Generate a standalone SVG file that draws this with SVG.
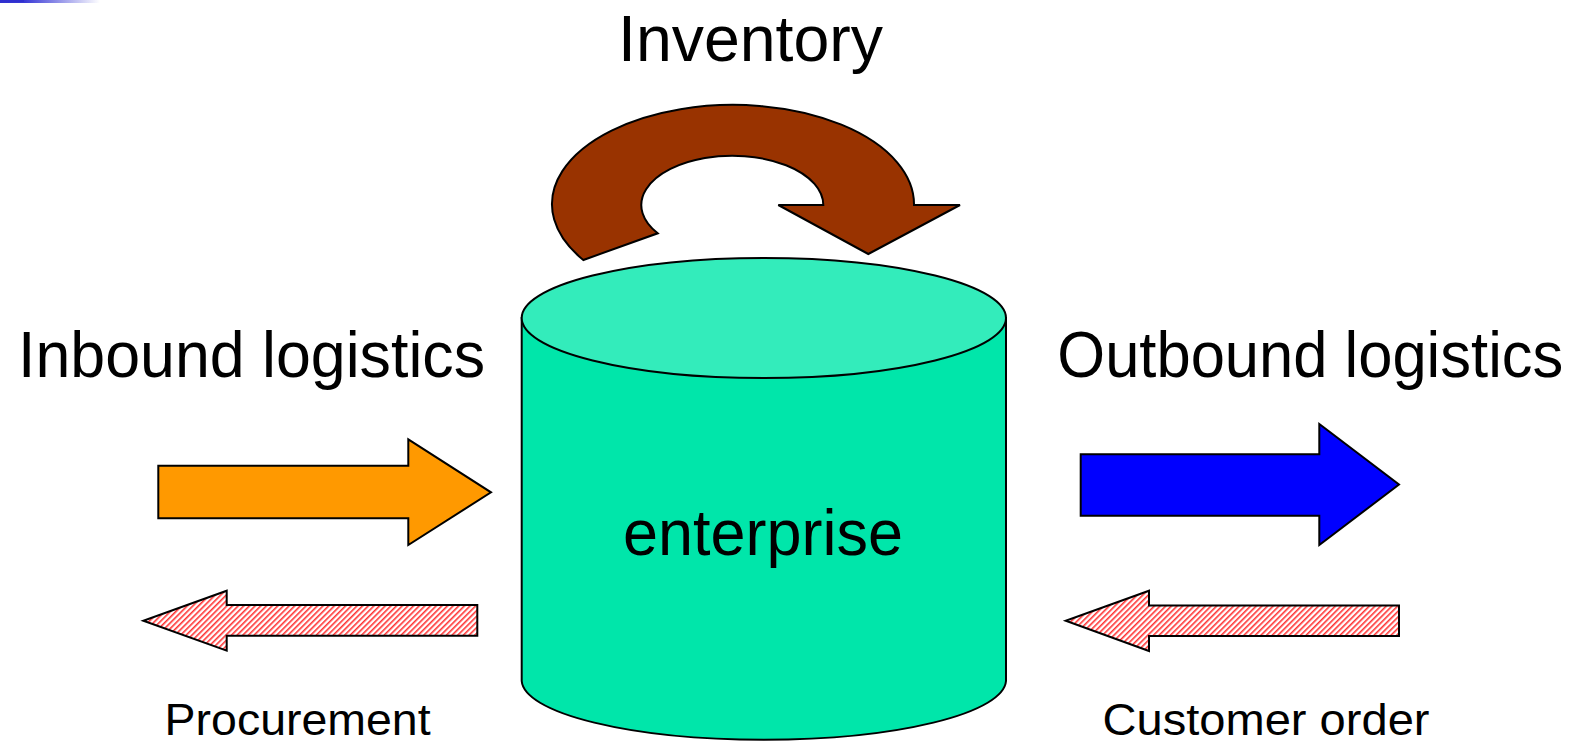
<svg xmlns="http://www.w3.org/2000/svg" width="1583" height="744" viewBox="0 0 1583 744">
<defs>
<linearGradient id="bar" x1="0" y1="0" x2="1" y2="0">
<stop offset="0" stop-color="#2F2FCF"/>
<stop offset="0.25" stop-color="#3A3AD6"/>
<stop offset="1" stop-color="#FFFFFF"/>
</linearGradient>
<pattern id="hatch" patternUnits="userSpaceOnUse" width="4" height="4" patternTransform="rotate(45)">
<rect x="0" y="0" width="4" height="4" fill="#FFFFFF"/>
<rect x="0" y="0" width="1.6" height="4" fill="#FF3333"/>
</pattern>
<style>
.shape{stroke:#000;stroke-width:2;stroke-linejoin:miter}
.big{font-family:"Liberation Sans",Arial,sans-serif;font-size:64px;fill:#000}
.small{font-family:"Liberation Sans",Arial,sans-serif;font-size:45px;fill:#000}
</style>
</defs>
<rect width="1583" height="744" fill="#FFFFFF"/>
<rect x="0" y="0" width="100" height="3" fill="url(#bar)"/>
<rect x="0" y="0" width="24" height="2" fill="#2F2FCF"/>

<g id="inventory-arrow">
<path class="shape" fill="#993300" d="M 914 205 A 181 99.3 0 1 0 583.3 260 L 657.7 233.3 A 91 49.3 0 1 1 823.3 205 L 778.3 205 L 868.3 254 L 960 205 Z"/>
</g>

<g id="enterprise">
<path class="shape" fill="#00E6AA" d="M 521.7 318 L 521.7 681 A 242.2 60 0 0 0 1006 681 L 1006 318 Z"/>
<ellipse class="shape" fill="#33ECBB" cx="763.85" cy="318" rx="242.15" ry="60"/>
<text class="big" x="623" y="555" textLength="280" lengthAdjust="spacingAndGlyphs">enterprise</text>
</g>

<g id="inbound-arrow">
<path class="shape" fill="#FF9900" d="M 158.3 465.7 L 408.3 465.7 L 408.3 439.3 L 491 492.3 L 408.3 545 L 408.3 518.3 L 158.3 518.3 Z"/>
</g>

<g id="outbound-arrow">
<path class="shape" fill="#0000FF" d="M 1080.7 454.3 L 1319.3 454.3 L 1319.3 424 L 1399 484.5 L 1319.3 545 L 1319.3 515.7 L 1080.7 515.7 Z"/>
</g>

<g id="procurement-arrow">
<path class="shape" fill="url(#hatch)" d="M 477.3 605 L 226.7 605 L 226.7 590.7 L 143.3 620.7 L 226.7 650.7 L 226.7 635.7 L 477.3 635.7 Z"/>
</g>

<g id="customer-order-arrow">
<path class="shape" fill="url(#hatch)" d="M 1399 605.5 L 1149 605.5 L 1149 590.7 L 1065.7 620.7 L 1149 651 L 1149 636 L 1399 636 Z"/>
</g>

<g id="labels">
<text class="big" x="618" y="61" textLength="265" lengthAdjust="spacingAndGlyphs">Inventory</text>
<text class="big" x="18" y="376.7" textLength="467" lengthAdjust="spacingAndGlyphs">Inbound logistics</text>
<text class="big" x="1057.3" y="376.7" textLength="506" lengthAdjust="spacingAndGlyphs">Outbound logistics</text>
<text class="small" x="164.6" y="735" textLength="266" lengthAdjust="spacingAndGlyphs">Procurement</text>
<text class="small" x="1102.5" y="735" textLength="327" lengthAdjust="spacingAndGlyphs">Customer order</text>
</g>
<g id="connectors"/>
</svg>
